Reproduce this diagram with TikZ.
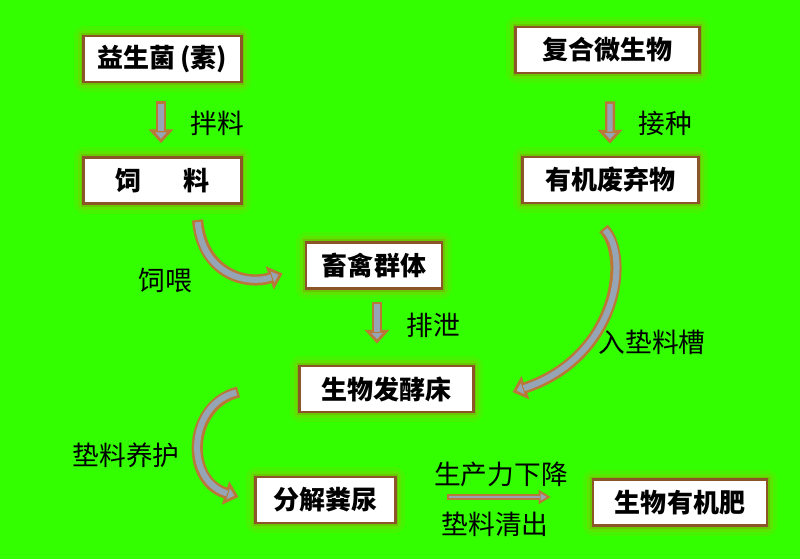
\documentclass[tikz,border=0pt]{standalone}
\usepackage{fontspec}
\setmainfont{Noto Sans CJK SC}
\usetikzlibrary{arrows.meta, positioning, calc}
\definecolor{bggreen}{RGB}{51,255,0}
\definecolor{boxbrown}{RGB}{140,85,40}
\definecolor{glowolive}{RGB}{140,200,0}
\definecolor{arrowbrown}{RGB}{185,120,55}
\definecolor{arrowgray}{RGB}{150,165,182}
\tikzset{
	box/.style={draw=boxbrown, line width=0.07cm, fill=white, minimum height=1.15cm, inner sep=0pt,
		font=\fontsize{18.5}{20}\selectfont\bfseries,
		preaction={draw=glowolive, line width=0.5cm, opacity=0.2, line join=round},
		preaction={draw=glowolive, line width=0.3cm, opacity=0.35, line join=round},
		preaction={draw=glowolive!85!black, line width=0.15cm, opacity=0.5}},
	steplabel/.style={font=\fontsize{19}{21}\selectfont, inner sep=0pt},
	blockarrow/.style={line width=0.25cm, draw=arrowbrown,
		-{Triangle[width=0.6cm, length=0.34cm, fill=arrowgray, line width=0.07cm]},
		postaction={-, draw=arrowgray, line width=0.13cm, shorten <=0.06cm, shorten >=0.3cm}},
	curvearrow/.style={blockarrow, line width=0.28cm,
		postaction={-, draw=arrowgray, line width=0.15cm, shorten <=0.06cm, shorten >=0.3cm}},
	thinarrow/.style={line width=0.14cm, draw=arrowbrown,
		-{Triangle[width=0.36cm, length=0.3cm, fill=arrowgray, line width=0.05cm]},
		postaction={-, draw=arrowgray, line width=0.05cm, shorten <=0.05cm, shorten >=0.27cm}}
}
\begin{document}
\begin{tikzpicture}[x=0.025cm, y=-0.025cm]
	\useasboundingbox (0,0) rectangle (800,559);
	\fill [bggreen] (0,0) rectangle (800,559);

	% boxes
	\node [box, minimum width=3.93cm] (yisheng) at (162.5,59) {益生菌\,(素)};
	\node [box, minimum width=3.93cm] (siliao) at (162.5,180.5) {饲\hspace{1.6em}料};
	\node [box, minimum width=4.58cm] (fuhe) at (607.5,50) {复合微生物};
	\node [box, minimum width=4.38cm] (youji) at (610.5,180) {有机废弃物};
	\node [box, minimum width=3.4cm] (xuqin) at (374,265.5) {畜禽群体};
	\node [box, minimum width=4.33cm] (fajiao) at (386.5,389) {生物发酵床};
	\node [box, minimum width=3.48cm] (fenjie) at (325.5,500) {分解粪尿};
	\node [box, minimum width=4.35cm] (feiliao) at (680,502.5) {生物有机肥};

	% straight arrows
	\draw [blockarrow] ([shift={(-1.5,18)}]yisheng.south) -- ([shift={(-1.5,-13)}]siliao.north);
	\draw [blockarrow] ([shift={(2.5,27)}]fuhe.south) -- ([shift={(-0.5,-12)}]youji.north);
	\draw [blockarrow] ([shift={(3,12)}]xuqin.south) -- ([shift={(-9.5,-21)}]fajiao.north);

	% curved arrows
	\draw [curvearrow] ([shift={(35,15)}]siliao.south) .. controls +(5,55) and +(-35,12) .. ([shift={(-22,8)}]xuqin.west);
	\draw [curvearrow] ([shift={(-7,24)}]youji.south) .. controls +(27,28) and +(105,-35) .. ([shift={(38,3)}]fajiao.east);
	\draw [curvearrow] ([shift={(-60,3)}]fajiao.west) .. controls +(-50,12) and +(-55,-17) .. ([shift={(-16,-3)}]fenjie.west);

	\draw [thinarrow] ([shift={(50,-3)}]fenjie.east) -- ([shift={(-41,-5.5)}]feiliao.west);

	% labels
	\node [steplabel] (banliao) at (217,123) {拌料};
	\node [steplabel] (jiezhong) at (665,123) {接种};
	\node [steplabel] (siwei) at (165,280) {饲喂};
	\node [steplabel] (paixie) at (433,325) {排泄};
	\node [steplabel] (rucao) at (652,342) {入垫料槽};
	\node [steplabel] (yanghu) at (126,455) {垫料养护};
	\node [steplabel] (xiajiang) at (501,474) {生产力下降};
	\node [steplabel] (qingchu) at (495,524) {垫料清出};

\end{tikzpicture}
\end{document}
